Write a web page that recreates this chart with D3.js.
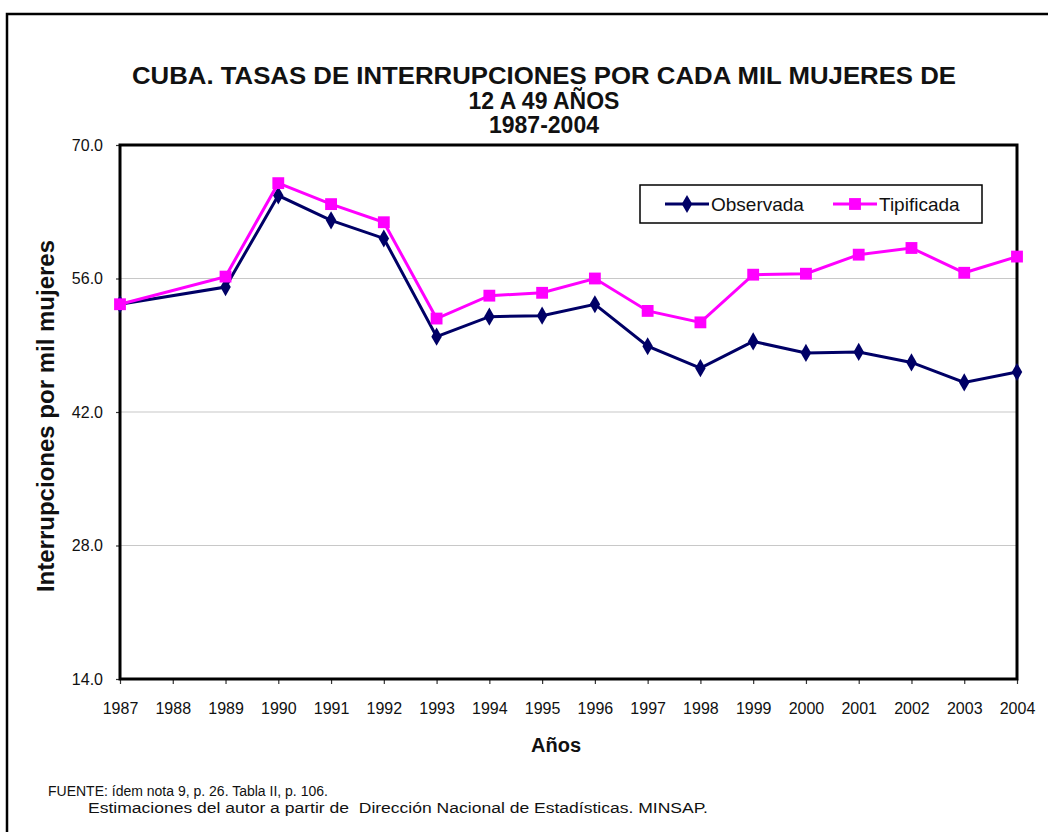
<!DOCTYPE html>
<html>
<head>
<meta charset="utf-8">
<script src="https://cdn.jsdelivr.net/npm/d3@7"></script>
<style>
  body { margin: 0; background: #fff; }
  svg { display: block; font-family: "Liberation Sans", Arial, sans-serif; }
</style>
</head>
<body>
<div id="myChart"></div>
<script>
// data
var years = ['1987','1988','1989','1990','1991','1992','1993','1994','1995','1996',
             '1997','1998','1999','2000','2001','2002','2003','2004'];
var observada = [53.3, null, 55.1, 64.7, 62.1, 60.2, 49.9, 52.0, 52.1, 53.3,
                 48.9, 46.6, 49.4, 48.2, 48.3, 47.2, 45.1, 46.2];
var tipificada = [53.3, null, 56.2, 66.0, 63.8, 61.9, 51.8, 54.2, 54.5, 56.0,
                  52.6, 51.4, 56.4, 56.5, 58.5, 59.2, 56.6, 58.3];
var yTicks = [14, 28, 42, 56, 70];
var titleLines = ['CUBA. TASAS DE INTERRUPCIONES POR CADA MIL MUJERES DE', '12 A 49 AÑOS', '1987-2004'];

var W = 1048, H = 832;
var plot = { left: 120, right: 1017, top: 145, bottom: 679 };

var svg = d3.select("#myChart").append("svg")
    .attr("width", W).attr("height", H);

// outer frame
svg.append("rect")
    .attr("x", 7).attr("y", 14)
    .attr("width", W).attr("height", H)
    .attr("fill", "none").attr("stroke", "#000").attr("stroke-width", 2.5);

var x = d3.scalePoint().domain(years).range([plot.left, plot.right]);
var y = d3.scaleLinear().domain([14, 70]).range([plot.bottom, plot.top]);

// title (first line stretched to the width it has in the picture)
var titles = svg.append("g").selectAll("text")
    .data(titleLines)
    .enter().append("text")
    .attr("x", 544)
    .attr("y", function(d, i) { return 84 + i * 24.5; })
    .attr("text-anchor", "middle")
    .attr("font-size", 23).attr("font-weight", "bold")
    .attr("fill", "#111")
    .text(function(d) { return d; });
titles.filter(function(d, i) { return i === 0; })
    .attr("x", 544 - 412).attr("text-anchor", "start")
    .attr("textLength", 824).attr("lengthAdjust", "spacingAndGlyphs");

// gridlines
svg.append("g").selectAll("line")
    .data(yTicks.filter(function(t) { return t > 14 && t < 70; }))
    .enter().append("line")
    .attr("x1", plot.left).attr("x2", plot.right)
    .attr("y1", function(d) { return y(d); })
    .attr("y2", function(d) { return y(d); })
    .attr("stroke", "#c8c8c8").attr("stroke-width", 1.2);

// axes
var yAxis = svg.append("g")
    .attr("transform", "translate(" + plot.left + ",0)")
    .call(d3.axisLeft(y).tickValues(yTicks).tickFormat(d3.format(".1f")).tickSize(4).tickPadding(13));
var xAxis = svg.append("g")
    .attr("transform", "translate(0," + plot.bottom + ")")
    .call(d3.axisBottom(x).tickSize(5).tickPadding(19));
[yAxis, xAxis].forEach(function(a) {
  a.select(".domain").remove();
  a.selectAll(".tick line").attr("stroke", "#333").attr("stroke-width", 1.2);
  a.selectAll(".tick text").attr("font-size", 16).attr("fill", "#111")
    .attr("font-family", "'Liberation Sans', Arial, sans-serif");
});

// plot border
svg.append("rect")
    .attr("x", plot.left).attr("y", plot.top)
    .attr("width", plot.right - plot.left).attr("height", plot.bottom - plot.top)
    .attr("fill", "none").attr("stroke", "#000").attr("stroke-width", 3);

// series
var series = [
  { name: 'Observada', values: observada, color: '#000066', shape: d3.symbolDiamond, size: 95 },
  { name: 'Tipificada', values: tipificada, color: '#ff00ff', shape: d3.symbolSquare, size: 140 }
];

var line = d3.line()
    .defined(function(d) { return d.v != null; })
    .x(function(d) { return x(d.year); })
    .y(function(d) { return y(d.v); });

series.forEach(function(s) {
  var pts = years.map(function(yr, i) { return { year: yr, v: s.values[i] }; })
      .filter(function(d) { return d.v != null; });
  svg.append("path")
      .datum(pts)
      .attr("d", line)
      .attr("fill", "none")
      .attr("stroke", s.color).attr("stroke-width", 3);
  svg.append("g").selectAll("path")
      .data(pts)
      .enter().append("path")
      .attr("transform", function(d) { return "translate(" + x(d.year) + "," + y(d.v) + ")"; })
      .attr("d", d3.symbol().type(s.shape).size(s.size))
      .attr("fill", s.color);
});

// legend
var lg = svg.append("g");
lg.append("rect")
    .attr("x", 640).attr("y", 185).attr("width", 342).attr("height", 38)
    .attr("fill", "#fff").attr("stroke", "#000").attr("stroke-width", 1.5);
var legendPos = [665, 833];
series.forEach(function(s, i) {
  var lx = legendPos[i];
  lg.append("line")
      .attr("x1", lx).attr("x2", lx + 44).attr("y1", 204).attr("y2", 204)
      .attr("stroke", s.color).attr("stroke-width", 3);
  lg.append("path")
      .attr("transform", "translate(" + (lx + 22) + ",204)")
      .attr("d", d3.symbol().type(s.shape).size(s.size))
      .attr("fill", s.color);
  lg.append("text")
      .attr("x", lx + 46).attr("y", 211)
      .attr("font-size", 19).attr("fill", "#111")
      .text(s.name);
});

// axis titles
svg.append("text")
    .attr("transform", "translate(54,416) rotate(-90)")
    .attr("text-anchor", "middle")
    .attr("font-size", 24).attr("font-weight", "bold").attr("fill", "#111")
    .text("Interrupciones por mil mujeres");

svg.append("text")
    .attr("x", 556).attr("y", 752)
    .attr("text-anchor", "middle")
    .attr("font-size", 20).attr("font-weight", "bold").attr("fill", "#111")
    .text("Años");

// source note
svg.append("text")
    .attr("x", 48).attr("y", 796)
    .attr("font-size", 14).attr("fill", "#111")
    .text("FUENTE: ídem nota 9, p. 26. Tabla II, p. 106.");
svg.append("text")
    .attr("x", 88).attr("y", 813)
    .attr("font-size", 14).attr("fill", "#111")
    .attr("textLength", 620).attr("lengthAdjust", "spacingAndGlyphs")
    .attr("xml:space", "preserve")
    .text("Estimaciones del autor a partir de  Dirección Nacional de Estadísticas. MINSAP.");
</script>
</body>
</html>
